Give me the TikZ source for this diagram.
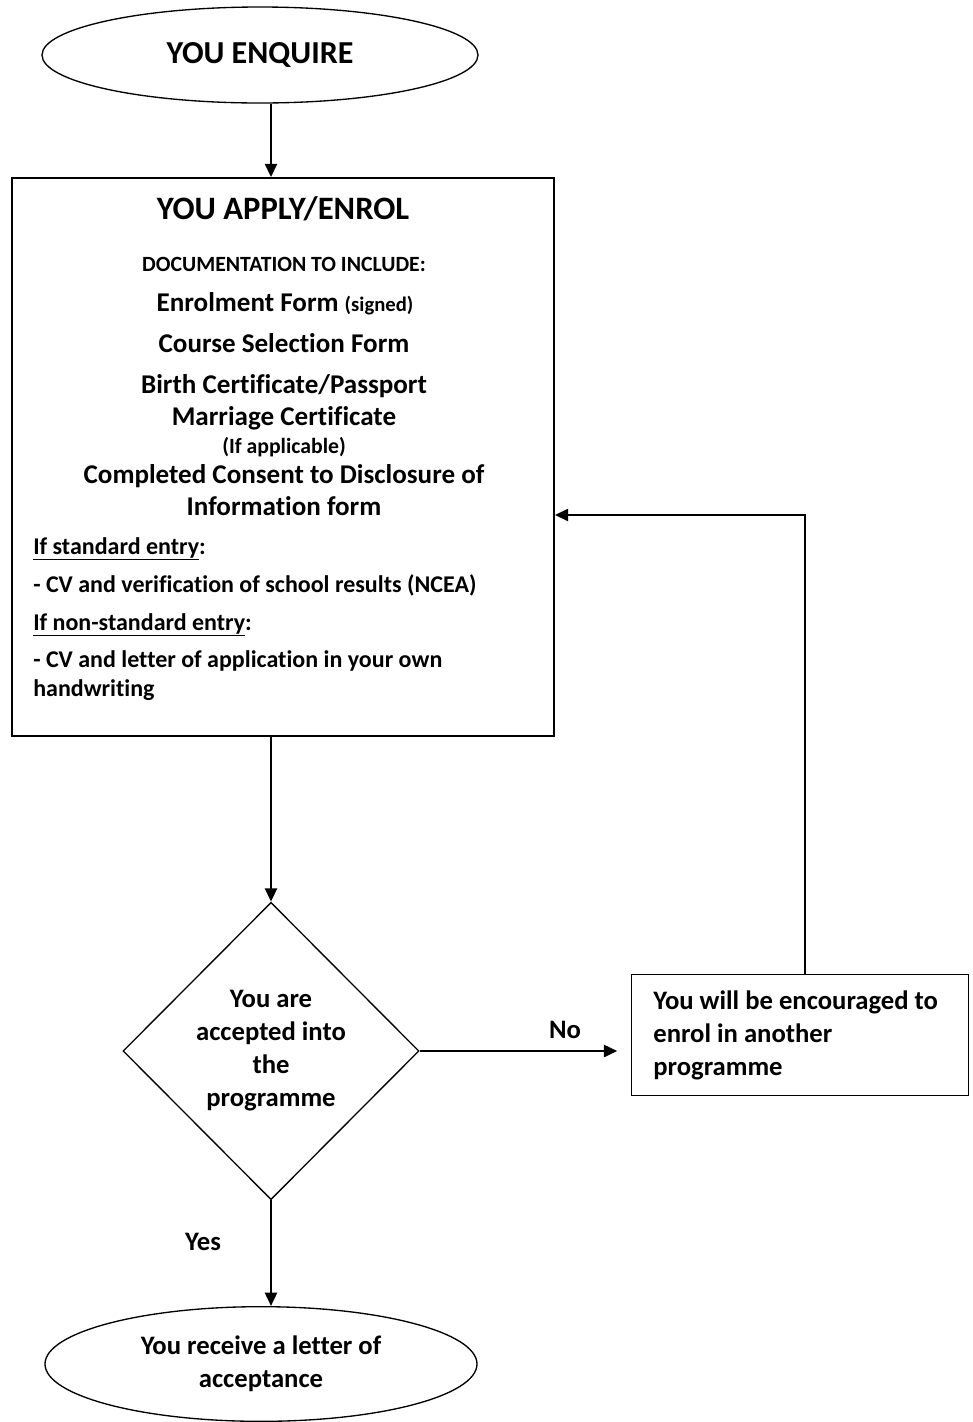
\documentclass[tikz,border=0pt]{standalone}
\usepackage{fontspec}
\setmainfont{Carlito}[Ligatures=NoCommon]
\usetikzlibrary{shapes.geometric,arrows.meta}

\begin{document}
\begin{tikzpicture}[x=0.75pt,y=-0.75pt,
					arr/.style={-{Triangle[length=10pt,width=9pt]},line width=1.8pt},
					box/.style={rectangle,draw,line width=1.3pt,inner sep=0pt},
					term/.style={ellipse,draw,line width=1pt,inner sep=0pt,align=center},
					test/.style={diamond,draw,line width=1pt,inner sep=0pt,align=center},
					txt/.style={inner sep=0pt},
					head/.style={font=\bfseries\fontsize{24}{28}\selectfont},
					doc/.style={font=\bfseries\fontsize{20.3}{24}\selectfont},
					small/.style={font=\bfseries\fontsize{16.3}{18}\selectfont},
					body/.style={font=\bfseries\fontsize{18}{24.75}\selectfont},
					label/.style={font=\bfseries\fontsize{20}{24.75}\selectfont}]
  \useasboundingbox (0,0) rectangle (973,1422);

  \node[term,head,minimum width=327pt,minimum height=72pt] (enq) at (260,55) {YOU ENQUIRE};
  \node[box,minimum width=406.5pt,minimum height=418.5pt] (apply) at (283,457) {};

  \node[txt,font=\bfseries\fontsize{24.5}{28}\selectfont,anchor=base] (t1) at (283,219) {YOU APPLY/ENROL};
  \node[txt,small,anchor=base] (t2) at (284,271) {DOCUMENTATION TO INCLUDE:};
  \node[txt,doc,anchor=base] (t3) at (285,311) {Enrolment Form {\fontsize{15.5}{18}\selectfont(signed)}};
  \node[txt,doc,anchor=base] (t4) at (284,352) {Course Selection Form};
  \node[txt,doc,anchor=base] (t5) at (284,393) {Birth Certificate/Passport};
  \node[txt,doc,anchor=base] (t6) at (284,425) {Marriage Certificate};
  \node[txt,small,anchor=base] (t7) at (284,453) {(If applicable)};
  \node[txt,doc,anchor=base] (t8) at (284,483) {Completed Consent to Disclosure of};
  \node[txt,doc,anchor=base] (t9) at (284,515) {Information form};
  \node[txt,body,anchor=base west] (t10) at (33,554) {\underline{If standard entry}:};
  \node[txt,body,anchor=base west] (t11) at (33,592) {- CV and verification of school results (NCEA)};
  \node[txt,body,anchor=base west] (t12) at (33,630) {\underline{If non-standard entry}:};
  \node[txt,body,anchor=base west] (t13) at (33,667) {- CV and letter of application in your own};
  \node[txt,body,anchor=base west] (t14) at (33,696) {handwriting};

  \node[test,label,minimum width=222pt,minimum height=223pt] (dia) at (271,1051)
    {You are\\accepted into\\the\\programme};
  \node[box,label,minimum width=252.75pt,minimum height=90.75pt,
        text width=220pt,align=flush left] (enc) at (800,1035)
    {You will be encouraged to\\enrol in another\\programme};
  \node[term,label,minimum width=324pt,minimum height=86pt] (acc) at (261,1364)
    {You receive a letter of\\acceptance};

  \node[txt,label] (no) at (565,1030) {No};
  \node[txt,label] (yes) at (203,1242) {Yes};
  \coordinate (back) at (805,515);

  \draw[arr] (enq.south -| dia) -- (dia |- apply.north);
  \draw[arr] (apply.south -| dia) -- (dia.north);
  \draw[arr,shorten >=10pt] (dia.east) -- (dia.east -| enc.west);
  \draw[arr] (enc.north -| back) |- (apply.east |- back);
  \draw[arr] (dia.south) -- (dia |- acc.north);
\end{tikzpicture}
\end{document}
